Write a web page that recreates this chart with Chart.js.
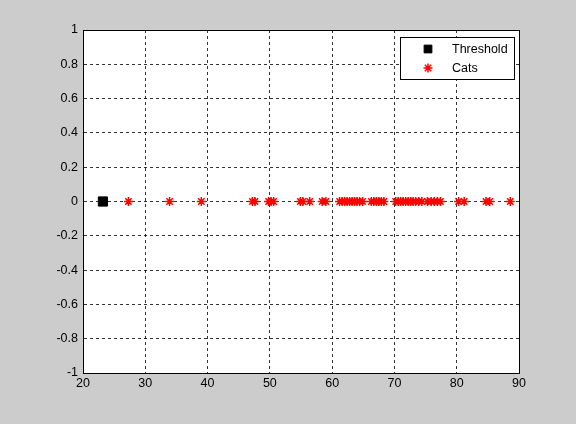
<!DOCTYPE html>
<html>
<head>
<meta charset="utf-8">
<script src="https://cdn.jsdelivr.net/npm/chart.js@4"></script>
<style>
  html, body { margin: 0; padding: 0; background: #cccccc; }
  #wrap { width: 576px; height: 424px; }
</style>
</head>
<body>
<div id="wrap"><canvas id="chart" width="576" height="424"></canvas></div>
<script>
/* Threshold position and the cat values along the x axis. */
const thresholdX = [23.2]
const catsX = [27.3, 33.9, 39.0, 47.2, 47.6, 49.8, 50.2, 50.6, 54.9, 55.3, 56.4, 58.4, 59.0,
  61.2, 61.6, 62.0, 62.4, 62.8, 63.2, 63.6, 64.0, 64.4, 64.9, 66.3, 66.7, 67.1, 67.5, 67.9, 68.3,
  70.2, 70.6, 71.0, 71.4, 71.8, 72.2, 72.6, 73.0, 73.4, 73.9, 74.4, 75.3, 75.9, 76.4, 76.9, 77.4,
  80.3, 81.2, 84.7, 85.3, 88.6]

const xTicks = [20, 30, 40, 50, 60, 70, 80, 90]
const yTicks = [-1, -0.8, -0.6, -0.4, -0.2, 0, 0.2, 0.4, 0.6, 0.8, 1]
const legendLabels = ["Threshold", "Cats"]

const font = { family: "Liberation Sans, Arial, sans-serif", size: 12.5 }

/* White axes background. */
const axesFill = {
  id: "axesFill",
  beforeDraw: chart => {
    const a = chart.chartArea
    chart.ctx.save()
    chart.ctx.fillStyle = "#fff"
    chart.ctx.fillRect(a.left, a.top, a.right - a.left, a.bottom - a.top)
    chart.ctx.restore()
  }
}

/* Box around the axes and the legend inside the plot. */
const axesBox = {
  id: "axesBox",
  afterDraw: chart => {
    const ctx = chart.ctx
    const a = chart.chartArea
    ctx.save()
    ctx.strokeStyle = "#000"
    ctx.lineWidth = 1
    ctx.setLineDash([])
    ctx.strokeRect(Math.round(a.left) + 0.5, Math.round(a.top) + 0.5,
      Math.round(a.right - a.left), Math.round(a.bottom - a.top))

    /* Legend */
    const lx = 400, ly = 37, lw = 114, lh = 42
    ctx.fillStyle = "#fff"
    ctx.fillRect(lx, ly, lw, lh)
    ctx.strokeRect(lx + 0.5, ly + 0.5, lw, lh)
    ctx.font = font.size + "px " + font.family
    ctx.textBaseline = "middle"
    ctx.textAlign = "left"
    chart.data.datasets.forEach((ds, i) => {
      const y = ly + 12 + i * 19
      ctx.fillStyle = ds.backgroundColor
      ctx.strokeStyle = ds.borderColor
      ctx.lineWidth = ds.borderWidth
      Chart.helpers.drawPoint(ctx, {
        pointStyle: ds.pointStyle,
        radius: ds.pointStyle === "rect" ? 5.5 : ds.pointRadius,
        borderWidth: ds.borderWidth
      }, lx + 28, y)
      ctx.fillStyle = "#000"
      ctx.fillText(legendLabels[i], lx + 52, y + 1)
    })
    ctx.restore()
  }
}

const gridStyle = {
  color: "rgba(0,0,0,0.8)",
  lineWidth: 1,
  drawTicks: false
}

const ctx = document.getElementById("chart").getContext("2d")
const chart = new Chart(ctx, {
  type: "scatter",
  data: {
    datasets: [{
      label: legendLabels[0],
      data: thresholdX.map(x => ({ x, y: 0 })),
      pointStyle: "rect",
      pointRadius: 6.5,
      borderWidth: 1,
      backgroundColor: "#000",
      borderColor: "#000"
    }, {
      label: legendLabels[1],
      data: catsX.map(x => ({ x, y: 0 })),
      pointStyle: "star",
      pointRadius: 4.5,
      borderWidth: 1.5,
      backgroundColor: "#ff0000",
      borderColor: "#ff0000"
    }]
  },
  options: {
    responsive: false,
    animation: false,
    layout: { padding: { left: 0, top: 30, right: 57, bottom: 0 } },
    plugins: {
      legend: { display: false },
      tooltip: { enabled: false }
    },
    scales: {
      x: {
        type: "linear",
        min: 20,
        max: 90,
        afterBuildTicks: scale => { scale.ticks = xTicks.map(v => ({ value: v })) },
        afterFit: scale => { scale.height = 51 },
        grid: gridStyle,
        border: { display: true, color: "#000", dash: [3, 3] },
        ticks: { color: "#000", font, padding: 3, maxRotation: 0 }
      },
      y: {
        type: "linear",
        min: -1,
        max: 1,
        afterBuildTicks: scale => { scale.ticks = yTicks.map(v => ({ value: v })) },
        afterFit: scale => { scale.width = 83 },
        grid: gridStyle,
        border: { display: true, color: "#000", dash: [3, 3] },
        ticks: { color: "#000", font, padding: 5, callback: v => String(Math.round(v * 10) / 10) }
      }
    }
  },
  plugins: [axesFill, axesBox]
})
</script>
</body>
</html>
